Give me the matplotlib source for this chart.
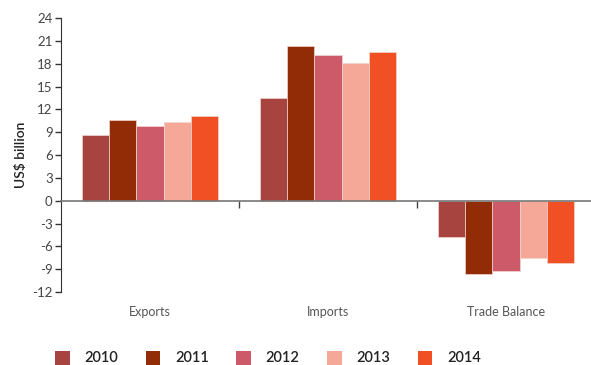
import numpy as np
import matplotlib
matplotlib.use('Agg')
import matplotlib.pyplot as plt
from matplotlib.patches import Patch
import matplotlib.transforms as mtransforms

plt.rcParams['font.family'] = ['Lato', 'DejaVu Sans']
plt.rcParams['axes.unicode_minus'] = False

categories = ['Exports', 'Imports', 'Trade Balance']
years = ['2010', '2011', '2012', '2013', '2014']
values_2010 = [8.6, 13.5, -4.8]
values_2011 = [10.6, 20.3, -9.6]
values_2012 = [9.8, 19.2, -9.3]
values_2013 = [10.4, 18.1, -7.5]
values_2014 = [11.1, 19.5, -8.2]
yticks = list(range(-12, 25, 3))

colors = ['#A84440', '#922C06', '#CD5A68', '#F5A898', '#F05023']
series = [values_2010, values_2011, values_2012, values_2013, values_2014]

fig = plt.figure(figsize=(5.91, 3.65), dpi=100)
ax = fig.add_axes([61 / 591, 1 - 292 / 365, 530 / 591, 274 / 365])

x = np.arange(len(categories))
bar_w = 0.153
for i, (vals, col) in enumerate(zip(series, colors)):
    offs = (i - 2) * bar_w
    ax.bar(x + offs, vals, width=bar_w, color=col, edgecolor='#f2d6d0',
           linewidth=0.5, zorder=2)

ax.set_xlim(-0.5, 2.478)
ax.set_ylim(-12, 24)
ax.set_yticks(yticks)
ax.tick_params(axis='y', direction='out', length=4, width=1, color='#333333',
               labelsize=9.5, labelcolor='#444444', pad=2)

# zero line acts as the x axis, with small separators between groups
ax.spines['bottom'].set_position(('data', 0))
ax.spines['bottom'].set_color('#777777')
ax.spines['bottom'].set_linewidth(1.2)
ax.set_xticks([0.5, 1.5])
ax.set_xticklabels(['', ''])
ax.tick_params(axis='x', direction='out', length=5, width=1, color='#444444')
ax.spines['left'].set_color('#333333')
for s in ['top', 'right']:
    ax.spines[s].set_visible(False)

trans = mtransforms.blended_transform_factory(ax.transData, fig.transFigure)
for xi, name in zip(x, categories):
    ax.text(xi, 1 - 312 / 365, name, transform=trans, ha='center', va='center',
            fontsize=9, color='#555555')

ax.set_ylabel('US$ billion', fontsize=10, color='#222222', labelpad=4,
              fontweight='semibold')

handles = [Patch(facecolor=c, edgecolor='none') for c in colors]
leg = fig.legend(handles, years, loc='center', bbox_to_anchor=(268 / 591, 1 - 358 / 365),
                 ncol=5, frameon=False, fontsize=10.5, handlelength=1.0,
                 handleheight=1.1, columnspacing=1.9, handletextpad=1.0,
                 borderpad=0)
for t in leg.get_texts():
    t.set_color('#222222')
    t.set_fontweight('semibold')

fig.savefig('out.png', dpi=100)
